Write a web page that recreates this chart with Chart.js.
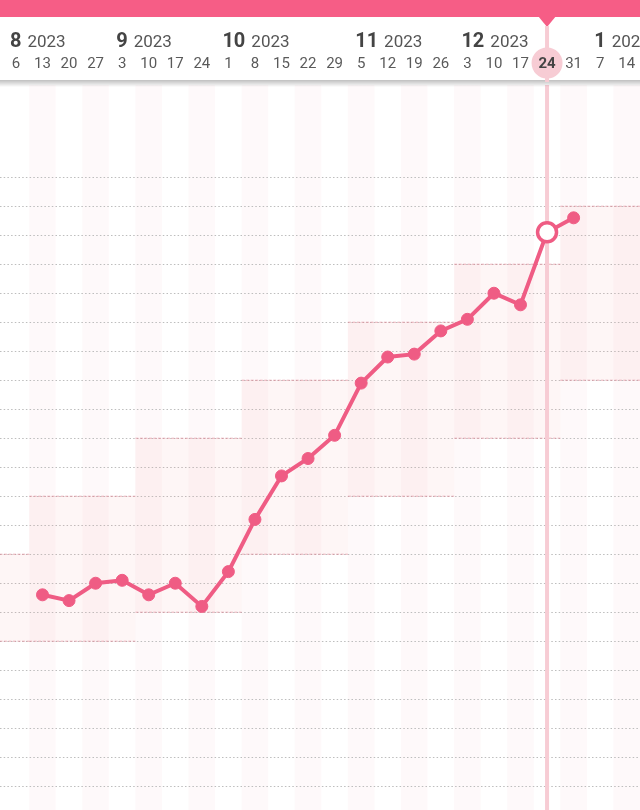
<!DOCTYPE html>
<html>
<head>
<meta charset="utf-8">
<script src="https://cdn.jsdelivr.net/npm/chart.js@4.4.0/dist/chart.umd.min.js"></script>
<style>
    html, body { margin: 0; padding: 0; background: #fff; }
    #wrap { position: relative; width: 640px; height: 810px; }
</style>
</head>
<body>
<div id="wrap"><canvas id="weight-chart"></canvas></div>
<script>
// weeks on the header (one column per week)
var dayLabels = ['6','13','20','27','3','10','17','24','1','8','15','22','29','5','12','19','26','3','10','17','24','31','7','14'];
var monthStarts = [0, 4, 8, 13, 17, 22];
var monthNames = ['8', '9', '10', '11', '12', '1'];
var monthYears = ['2023', '2023', '2023', '2023', '2023', '2024'];
var todayIndex = 20;

// weekly weight
var weights = [null, 51.3, 51.2, 51.5, 51.55, 51.3, 51.5, 51.1, 51.7, 52.6, 53.35, 53.65, 54.05,
               54.95, 55.4, 55.45, 55.85, 56.05, 56.5, 56.3, 57.55, 57.8, null, null];

// recommended range, one block per 4 weeks
var rangeFrom = [-3, 1, 5, 9, 13, 17, 21];
var rangeLow  = [50.5, 50.5, 51.0, 52.0, 53.0, 54.0, 55.0];
var rangeHigh = [52.0, 53.0, 54.0, 55.0, 56.0, 57.0, 58.0];

// horizontal guide lines
var gridMin = 48, gridMax = 58.5, gridStep = 0.5;

var PINK = '#ef5c84';
var LIGHT = '#f7ccd4';
var FONT = 'Roboto, "Noto Sans", sans-serif';

var points = [];
weights.forEach(function(w, i) {
    if (w !== null) points.push({x: i, y: w});
});

var backdrop = {
    id: 'backdrop',
    beforeDraw: function(chart) {
        var ctx = chart.ctx, xs = chart.scales.x, area = chart.chartArea;
        ctx.save();
        ctx.fillStyle = 'rgba(236,170,185,0.07)';
        for (var i = 1; i < dayLabels.length + 1; i += 2) {
            var l = xs.getPixelForValue(i - 0.5), r = xs.getPixelForValue(i + 0.5);
            ctx.fillRect(l, area.top, r - l, area.bottom - area.top);
        }
        ctx.restore();
    },
    beforeDatasetsDraw: function(chart) {
        var ctx = chart.ctx, xs = chart.scales.x, ys = chart.scales.y, area = chart.chartArea;
        ctx.save();
        ctx.beginPath();
        ctx.rect(area.left, area.top, area.right - area.left, area.bottom - area.top);
        ctx.clip();
        for (var k = 0; k < rangeFrom.length; k++) {
            var l = xs.getPixelForValue(rangeFrom[k] - 0.5);
            var r = xs.getPixelForValue(rangeFrom[k] + 3.5);
            var t = ys.getPixelForValue(rangeHigh[k]);
            var b = ys.getPixelForValue(rangeLow[k]);
            ctx.fillStyle = 'rgba(240,150,160,0.09)';
            ctx.fillRect(l, t, r - l, b - t);
            ctx.strokeStyle = 'rgba(222,130,145,0.6)';
            ctx.lineWidth = 1;
            ctx.setLineDash([3, 1.5]);
            ctx.beginPath();
            ctx.moveTo(l, t); ctx.lineTo(r, t);
            ctx.moveTo(l, b); ctx.lineTo(r, b);
            ctx.stroke();
        }
        // today marker
        var tx = xs.getPixelForValue(todayIndex);
        ctx.setLineDash([]);
        ctx.strokeStyle = LIGHT;
        ctx.lineWidth = 4;
        ctx.beginPath();
        ctx.moveTo(tx, area.top);
        ctx.lineTo(tx, area.bottom);
        ctx.stroke();
        ctx.restore();
    },
    afterDraw: function(chart) {
        var ctx = chart.ctx, xs = chart.scales.x, w = chart.width;
        var tx = xs.getPixelForValue(todayIndex);
        ctx.save();
        ctx.fillStyle = '#fff';
        ctx.fillRect(0, 0, w, 81);
        var g = ctx.createLinearGradient(0, 80, 0, 87);
        g.addColorStop(0, 'rgba(0,0,0,0.25)');
        g.addColorStop(1, 'rgba(0,0,0,0)');
        ctx.fillStyle = g;
        ctx.fillRect(0, 80, w, 7);

        // top bar with pointer
        ctx.fillStyle = '#f65d86';
        ctx.fillRect(0, 0, w, 17);
        ctx.beginPath();
        ctx.moveTo(tx - 9, 16);
        ctx.lineTo(tx + 9, 16);
        ctx.lineTo(tx, 27);
        ctx.closePath();
        ctx.fill();

        ctx.strokeStyle = LIGHT;
        ctx.lineWidth = 4;
        ctx.beginPath();
        ctx.moveTo(tx, 26);
        ctx.lineTo(tx, 82);
        ctx.stroke();
        ctx.fillStyle = LIGHT;
        ctx.beginPath();
        ctx.arc(tx, 63, 15.5, 0, Math.PI * 2);
        ctx.fill();

        // month labels
        ctx.textBaseline = 'alphabetic';
        ctx.textAlign = 'left';
        monthStarts.forEach(function(idx, m) {
            var px = xs.getPixelForValue(idx) - 6;
            ctx.font = 'bold 20px ' + FONT;
            ctx.fillStyle = '#444';
            ctx.fillText(monthNames[m], px, 47);
            var nw = ctx.measureText(monthNames[m]).width;
            ctx.font = '17px ' + FONT;
            ctx.fillStyle = '#555';
            ctx.fillText(monthYears[m], px + nw + 6, 47);
        });

        // week labels
        ctx.textAlign = 'center';
        dayLabels.forEach(function(d, i) {
            var px = xs.getPixelForValue(i);
            if (i === todayIndex) {
                ctx.font = 'bold 15px ' + FONT;
                ctx.fillStyle = '#444';
            } else {
                ctx.font = '15px ' + FONT;
                ctx.fillStyle = '#5a5a5a';
            }
            ctx.fillText(d, px, 68);
        });
        ctx.restore();
    }
};

new Chart(document.getElementById('weight-chart'), {
    type: 'line',
    data: {
        datasets: [{
            label: 'weight',
            data: points,
            borderColor: PINK,
            borderWidth: 4,
            backgroundColor: PINK,
            pointRadius: function(c) { return c.raw && c.raw.x === todayIndex ? 9.5 : 6; },
            pointBackgroundColor: function(c) { return c.raw && c.raw.x === todayIndex ? '#fff' : PINK; },
            pointBorderColor: PINK,
            pointBorderWidth: function(c) { return c.raw && c.raw.x === todayIndex ? 3.5 : 1; },
            tension: 0
        }]
    },
    options: {
        responsive: true,
        maintainAspectRatio: false,
        animation: false,
        layout: { autoPadding: false, padding: { top: 85, left: 0, right: 0, bottom: 0 } },
        plugins: {
            legend: { display: false },
            tooltip: { enabled: false }
        },
        scales: {
            x: {
                type: 'linear',
                display: false,
                min: -0.6,
                max: 23.5
            },
            y: {
                type: 'linear',
                min: 47.59,
                max: 60.09,
                ticks: { display: false },
                grid: { color: '#bdbdbd', lineWidth: 1, drawTicks: false },
                border: { display: false, dash: [1.5, 2.2] },
                afterBuildTicks: function(scale) {
                    var t = [];
                    for (var v = gridMin; v <= gridMax + 0.001; v += gridStep) t.push({value: v});
                    scale.ticks = t;
                }
            }
        }
    },
    plugins: [backdrop]
});
</script>
</body>
</html>
